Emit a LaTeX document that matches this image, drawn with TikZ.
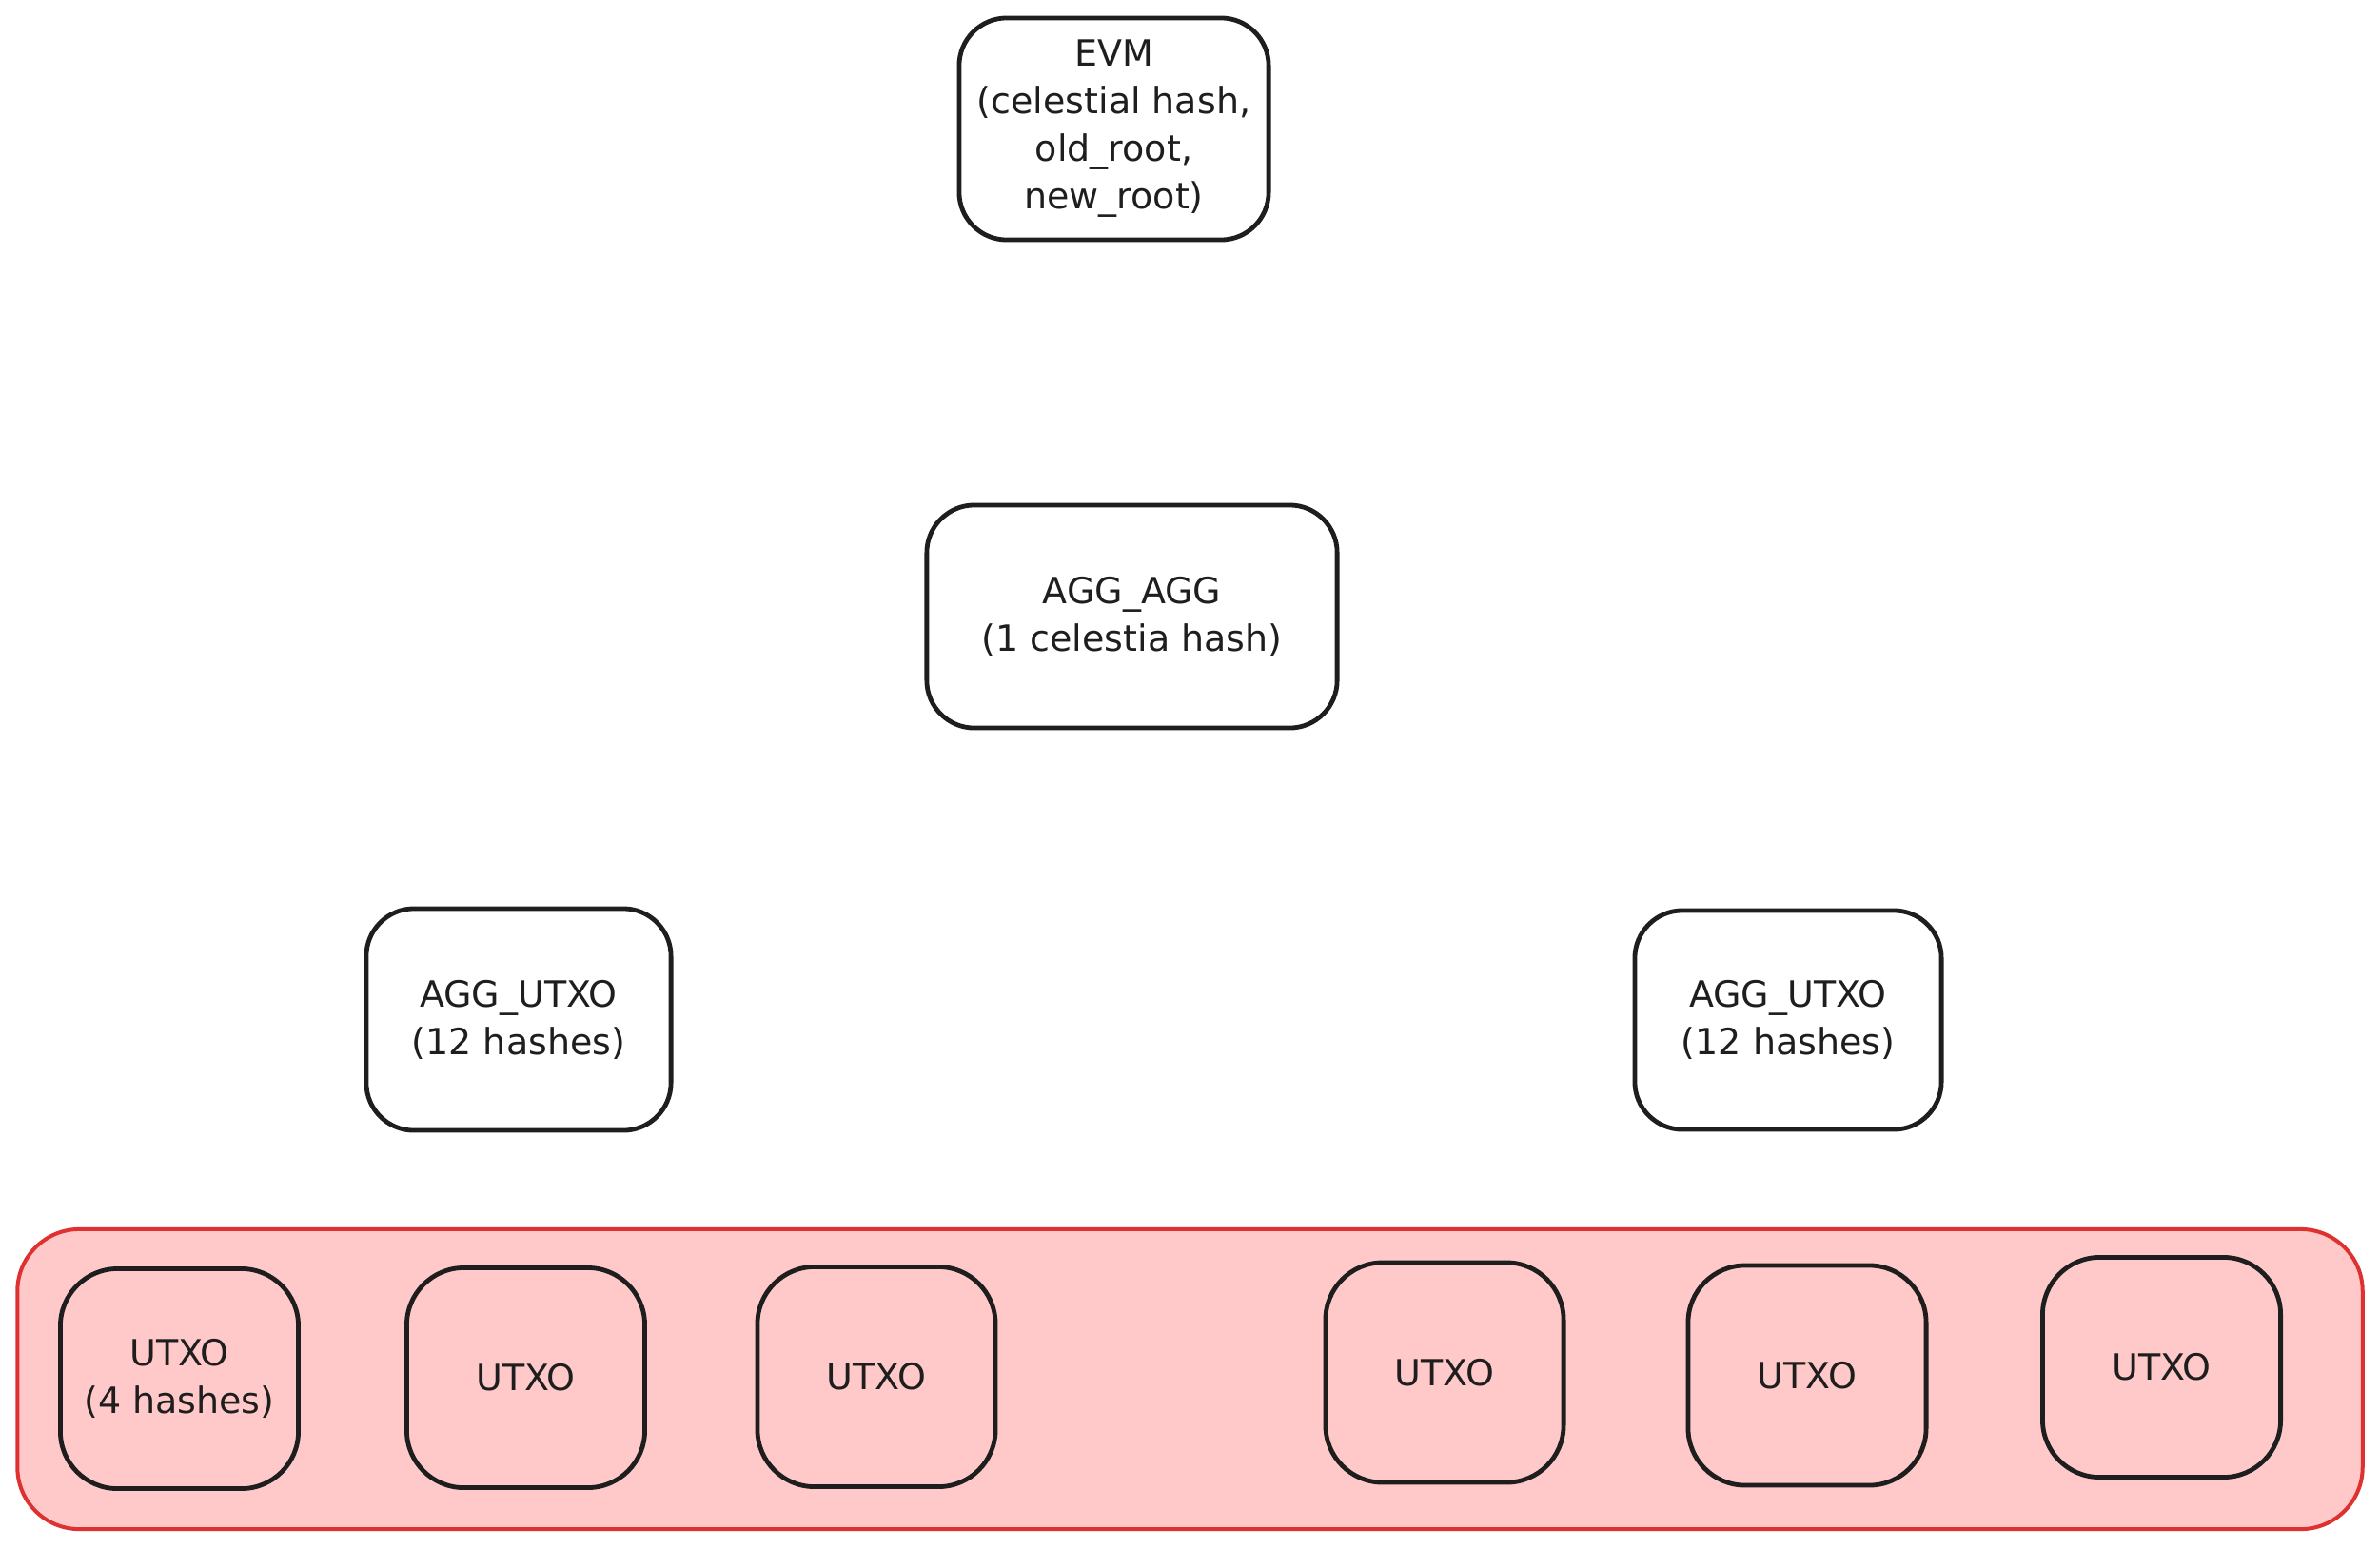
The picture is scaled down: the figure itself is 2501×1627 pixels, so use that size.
\documentclass[tikz,border=0pt]{standalone}
\usepackage{fontspec}
\setmainfont{DejaVu Sans}
\definecolor{ink}{HTML}{1E1E1E}
\definecolor{groupline}{HTML}{E03131}
\definecolor{groupfill}{HTML}{FFC9C9}
\begin{document}
\begin{tikzpicture}[x=0.01cm, y=-0.01cm,
  card/.style={draw=ink, line width=0.048cm, rounded corners=0.5cm,
    align=center, inner sep=0pt, text=ink,
    font=\fontsize{10.8pt}{14.2pt}\selectfont},
  leaf/.style={card, rounded corners=0.6cm, fill=groupfill,
    minimum width=2.5cm, minimum height=2.31cm},
  group/.style={draw=groupline, fill=groupfill, line width=0.04cm,
    rounded corners=0.65cm, inner sep=0pt}]
\useasboundingbox (0,0) rectangle (2501,1627);

% top level
\node[card, minimum width=3.25cm, minimum height=2.33cm] (evm) at (1170.5,135.5)
  {EVM\\(celestial hash,\\old\_root,\\new\_root)};

% aggregator of aggregators
\node[card, minimum width=4.31cm, minimum height=2.34cm] (aggagg) at (1189.5,648)
  {AGG\_AGG\\(1 celestia hash)};

% UTXO aggregators
\node[card, minimum width=3.2cm, minimum height=2.33cm] (aggl) at (545,1071.5)
  {AGG\_UTXO\\(12 hashes)};
\node[card, minimum width=3.22cm, minimum height=2.3cm] (aggr) at (1879,1072)
  {AGG\_UTXO\\(12 hashes)};

% group of UTXO leaves
\node[group, minimum width=24.63cm, minimum height=3.15cm] (leaves) at (1250.5,1449.5) {};

\node[leaf] (u1) at (188.5,1449) {UTXO\\(4 hashes)};
\node[leaf] (u2) at (552.5,1448) {UTXO};
\node[leaf] (u3) at (921,1447) {UTXO};
\node[leaf] (u4) at (1518,1442.5) {UTXO};
\node[leaf] (u5) at (1899,1445.5) {UTXO};
\node[leaf] (u6) at (2271.5,1437) {UTXO};
\end{tikzpicture}
\end{document}
